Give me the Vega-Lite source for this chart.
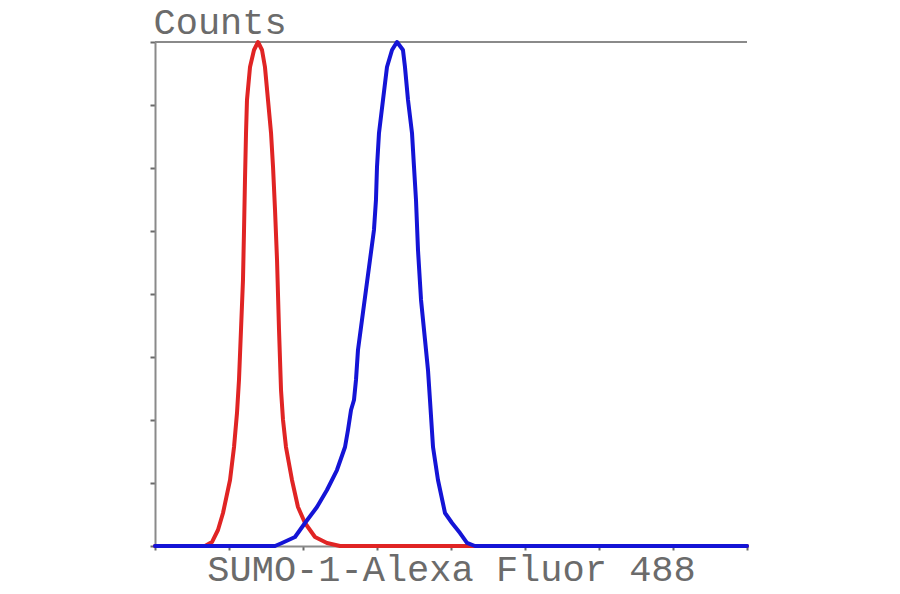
{
  "$schema": "https://vega.github.io/schema/vega-lite/v6.json",
  "width": 592,
  "height": 504,
  "autosize": "none",
  "padding": {"left": 155, "top": 42, "right": 153, "bottom": 48},
  "background": "white",
  "config": {"view": {"stroke": null}},
  "datasets": {
    "curves": [
      {"s": "control", "x": 0, "y": 0},
      {"s": "control", "x": 0.676, "y": 0},
      {"s": "control", "x": 0.77, "y": 0.063},
      {"s": "control", "x": 0.851, "y": 0.254},
      {"s": "control", "x": 0.919, "y": 0.524},
      {"s": "control", "x": 1.014, "y": 1.048},
      {"s": "control", "x": 1.068, "y": 1.571},
      {"s": "control", "x": 1.108, "y": 2.111},
      {"s": "control", "x": 1.135, "y": 2.635},
      {"s": "control", "x": 1.162, "y": 3.429},
      {"s": "control", "x": 1.189, "y": 4.222},
      {"s": "control", "x": 1.203, "y": 5.016},
      {"s": "control", "x": 1.216, "y": 5.81},
      {"s": "control", "x": 1.23, "y": 6.556},
      {"s": "control", "x": 1.243, "y": 7.079},
      {"s": "control", "x": 1.284, "y": 7.603},
      {"s": "control", "x": 1.338, "y": 7.873},
      {"s": "control", "x": 1.392, "y": 8.0},
      {"s": "control", "x": 1.446, "y": 7.873},
      {"s": "control", "x": 1.486, "y": 7.603},
      {"s": "control", "x": 1.527, "y": 7.079},
      {"s": "control", "x": 1.568, "y": 6.556},
      {"s": "control", "x": 1.595, "y": 6.016},
      {"s": "control", "x": 1.622, "y": 5.333},
      {"s": "control", "x": 1.649, "y": 4.54},
      {"s": "control", "x": 1.676, "y": 3.429},
      {"s": "control", "x": 1.703, "y": 2.476},
      {"s": "control", "x": 1.73, "y": 2.0},
      {"s": "control", "x": 1.77, "y": 1.571},
      {"s": "control", "x": 1.851, "y": 1.048},
      {"s": "control", "x": 1.932, "y": 0.619},
      {"s": "control", "x": 2.027, "y": 0.365},
      {"s": "control", "x": 2.162, "y": 0.143},
      {"s": "control", "x": 2.324, "y": 0.048},
      {"s": "control", "x": 2.5, "y": 0},
      {"s": "control", "x": 4.122, "y": 0},
      {"s": "control", "x": 8, "y": 0},
      {"s": "sample", "x": 0, "y": 0},
      {"s": "sample", "x": 1.622, "y": 0},
      {"s": "sample", "x": 1.716, "y": 0.048},
      {"s": "sample", "x": 1.892, "y": 0.143},
      {"s": "sample", "x": 2.027, "y": 0.365},
      {"s": "sample", "x": 2.189, "y": 0.619},
      {"s": "sample", "x": 2.324, "y": 0.889},
      {"s": "sample", "x": 2.459, "y": 1.206},
      {"s": "sample", "x": 2.568, "y": 1.571},
      {"s": "sample", "x": 2.608, "y": 1.841},
      {"s": "sample", "x": 2.649, "y": 2.159},
      {"s": "sample", "x": 2.689, "y": 2.317},
      {"s": "sample", "x": 2.716, "y": 2.635},
      {"s": "sample", "x": 2.743, "y": 3.111},
      {"s": "sample", "x": 2.797, "y": 3.587},
      {"s": "sample", "x": 2.851, "y": 4.063},
      {"s": "sample", "x": 2.905, "y": 4.54},
      {"s": "sample", "x": 2.959, "y": 5.016},
      {"s": "sample", "x": 2.986, "y": 5.492},
      {"s": "sample", "x": 3.0, "y": 6.016},
      {"s": "sample", "x": 3.027, "y": 6.556},
      {"s": "sample", "x": 3.081, "y": 7.079},
      {"s": "sample", "x": 3.135, "y": 7.603},
      {"s": "sample", "x": 3.203, "y": 7.873},
      {"s": "sample", "x": 3.27, "y": 8.0},
      {"s": "sample", "x": 3.351, "y": 7.873},
      {"s": "sample", "x": 3.378, "y": 7.603},
      {"s": "sample", "x": 3.419, "y": 7.079},
      {"s": "sample", "x": 3.473, "y": 6.556},
      {"s": "sample", "x": 3.5, "y": 6.016},
      {"s": "sample", "x": 3.527, "y": 5.492},
      {"s": "sample", "x": 3.554, "y": 4.698},
      {"s": "sample", "x": 3.595, "y": 3.905},
      {"s": "sample", "x": 3.649, "y": 3.27},
      {"s": "sample", "x": 3.689, "y": 2.794},
      {"s": "sample", "x": 3.716, "y": 2.317},
      {"s": "sample", "x": 3.757, "y": 1.571},
      {"s": "sample", "x": 3.824, "y": 1.048},
      {"s": "sample", "x": 3.919, "y": 0.524},
      {"s": "sample", "x": 4.014, "y": 0.365},
      {"s": "sample", "x": 4.122, "y": 0.206},
      {"s": "sample", "x": 4.216, "y": 0.048},
      {"s": "sample", "x": 4.324, "y": 0},
      {"s": "sample", "x": 8, "y": 0}
    ]
  },
  "data": {"name": "curves"},
  "layer": [
    {
      "mark": {"type": "rule", "color": "#8a8a8a", "strokeWidth": 2},
      "encoding": {"y": {"datum": 8, "type": "quantitative"}}
    },
    {
      "mark": {"type": "line", "strokeWidth": 4, "strokeJoin": "round", "strokeCap": "round"},
      "encoding": {
        "x": {
          "field": "x", "type": "quantitative",
          "scale": {"domain": [0, 8], "nice": false, "zero": false},
          "axis": {
            "values": [0, 1, 2, 3, 4, 5, 6, 7, 8],
            "labels": false, "grid": false,
            "domainColor": "#8a8a8a", "domainWidth": 2,
            "tickColor": "#6a6a6a", "tickSize": 4, "tickWidth": 2,
            "title": "SUMO-1-Alexa Fluor 488",
            "titleFont": "Liberation Mono", "titleFontSize": 37, "titleFontWeight": "normal",
            "titleColor": "#6b6b6b", "titleAnchor": "middle", "titleX": 296, "titleY": 34,
            "titleBaseline": "alphabetic", "titleAlign": "center"
          }
        },
        "y": {
          "field": "y", "type": "quantitative",
          "scale": {"domain": [0, 8], "nice": false, "zero": false},
          "axis": {
            "values": [0, 1, 2, 3, 4, 5, 6, 7, 8],
            "labels": false, "grid": false,
            "domainColor": "#8a8a8a", "domainWidth": 2,
            "tickColor": "#6a6a6a", "tickSize": 5, "tickWidth": 2,
            "title": "Counts",
            "titleFont": "Liberation Mono", "titleFontSize": 37, "titleFontWeight": "normal",
            "titleColor": "#6b6b6b", "titleAngle": 0, "titleX": -2, "titleY": -9,
            "titleAlign": "left", "titleBaseline": "alphabetic"
          }
        },
        "color": {
          "field": "s", "type": "nominal",
          "scale": {"domain": ["control", "sample"], "range": ["#e02424", "#1414d6"]},
          "legend": null
        },
        "order": {"field": "x", "type": "quantitative"}
      }
    }
  ]
}
